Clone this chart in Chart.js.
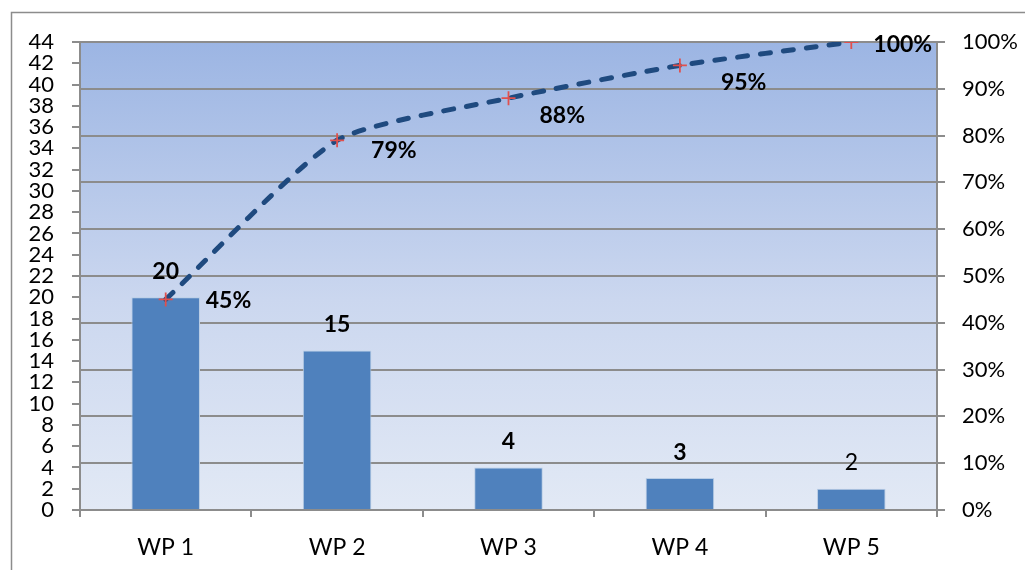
<!DOCTYPE html>
<html>
<head>
<meta charset="utf-8">
<style>
  html, body { margin: 0; padding: 0; background: #ffffff; }
  #wrap { width: 1025px; height: 570px; position: relative; }
</style>
<script src="https://cdn.jsdelivr.net/npm/chart.js@4.4.1/dist/chart.umd.min.js"></script>
</head>
<body>
<div id="wrap"><canvas id="pareto" width="1025" height="570"></canvas></div>
<script>
// Work packages and their counts
const categories = ['WP 1', 'WP 2', 'WP 3', 'WP 4', 'WP 5'];
const counts = [20, 15, 4, 3, 2];
// Cumulative share, in percent, as labelled on the line
const cumulativePct = [45, 79, 88, 95, 100];
// Axis ranges
const countAxisMax = 44;
const countAxisStep = 2;
const pctAxisMax = 100;
const pctAxisStep = 10;

const FONT = 'Lato, "Open Sans", "DejaVu Sans", sans-serif';
const AXIS_GREY = '#8c8c8c';

// Gradient plot background plus the frame around the whole chart
const backdrop = {
  id: 'backdrop',
  beforeDraw(chart) {
    const { ctx, chartArea: a } = chart;
    ctx.save();
    const g = ctx.createLinearGradient(0, a.top, 0, a.bottom);
    g.addColorStop(0, '#9cb5e3');
    g.addColorStop(0.55, '#cbd7ef');
    g.addColorStop(1, '#e2e9f5');
    ctx.fillStyle = g;
    ctx.fillRect(a.left, a.top, a.right - a.left, a.bottom - a.top);
    ctx.strokeStyle = '#8c8c8c';
    ctx.lineWidth = 1.5;
    ctx.strokeRect(11.5, 12.5, 1200, 700);
    ctx.restore();
  }
};

// Value labels above bars and beside line points
const valueLabels = {
  id: 'valueLabels',
  afterDatasetsDraw(chart, args, opts) {
    const { ctx } = chart;
    ctx.save();
    ctx.fillStyle = '#000000';
    ctx.textBaseline = 'middle';

    const barMeta = chart.getDatasetMeta(1);
    barMeta.data.forEach((bar, i) => {
      ctx.font = (opts.barBold[i] ? 'bold ' : '') + '23px ' + FONT;
      ctx.textAlign = 'center';
      ctx.fillText(String(counts[i]), bar.x, bar.y - 26);
    });

    const lineMeta = chart.getDatasetMeta(0);
    lineMeta.data.forEach((pt, i) => {
      ctx.font = 'bold 23px ' + FONT;
      ctx.textAlign = 'left';
      const [dx, dy] = opts.lineOffsets[i];
      ctx.fillText(cumulativePct[i] + '%', pt.x + dx, pt.y + dy);
    });
    ctx.restore();
  }
};

new Chart(document.getElementById('pareto'), {
  data: {
    labels: categories,
    datasets: [
      {
        type: 'line',
        label: 'Cumulative %',
        data: cumulativePct,
        yAxisID: 'yPct',
        borderColor: '#1f4a7f',
        borderWidth: 5,
        borderDash: [10, 13],
        borderCapStyle: 'round',
        tension: 0.2,
        fill: false,
        pointStyle: 'cross',
        pointRadius: 7,
        pointBorderColor: '#e0504d',
        pointBorderWidth: 1.8,
        pointBackgroundColor: '#e0504d',
        order: 0
      },
      {
        type: 'bar',
        label: 'Count',
        data: counts,
        yAxisID: 'yCount',
        backgroundColor: '#4f81bd',
        borderColor: '#b9cde5',
        borderWidth: 1,
        barPercentage: 0.4,
        categoryPercentage: 1.0,
        order: 1
      }
    ]
  },
  options: {
    responsive: false,
    animation: false,
    devicePixelRatio: 1,
    layout: { padding: { top: 42, left: 0, right: 0, bottom: 0 } },
    plugins: {
      legend: { display: false },
      tooltip: { enabled: false },
      valueLabels: {
        barBold: [true, true, true, true, false],
        lineOffsets: [[40, 1], [34, 10], [31, 17], [41, 17], [22, 3]]
      }
    },
    scales: {
      x: {
        type: 'category',
        offset: true,
        grid: {
          offset: true,
          drawOnChartArea: false,
          tickLength: 7,
          color: AXIS_GREY,
          lineWidth: 2
        },
        border: { color: AXIS_GREY, width: 2 },
        ticks: {
          color: '#000000',
          font: { family: FONT, size: 23 },
          padding: 17,
          maxRotation: 0,
          autoSkip: false
        },
        afterFit(scale) { scale.height = 60; }
      },
      yCount: {
        type: 'linear',
        position: 'left',
        min: 0,
        max: countAxisMax,
        grid: {
          drawOnChartArea: false,
          tickLength: 8,
          color: AXIS_GREY,
          lineWidth: 2
        },
        border: { color: AXIS_GREY, width: 2 },
        ticks: {
          stepSize: countAxisStep,
          autoSkip: false,
          color: '#000000',
          font: { family: FONT, size: 22 },
          padding: 18
        },
        afterFit(scale) { scale.width = 80; }
      },
      yPct: {
        type: 'linear',
        position: 'right',
        min: 0,
        max: pctAxisMax,
        grid: {
          drawOnChartArea: true,
          tickLength: 8,
          color: AXIS_GREY,
          lineWidth: 2
        },
        border: { color: AXIS_GREY, width: 2 },
        ticks: {
          stepSize: pctAxisStep,
          autoSkip: false,
          color: '#000000',
          font: { family: FONT, size: 22 },
          padding: 17,
          callback: (v) => v + '%'
        },
        afterFit(scale) { scale.width = 88; }
      }
    }
  },
  plugins: [backdrop, valueLabels]
});
</script>
</body>
</html>
